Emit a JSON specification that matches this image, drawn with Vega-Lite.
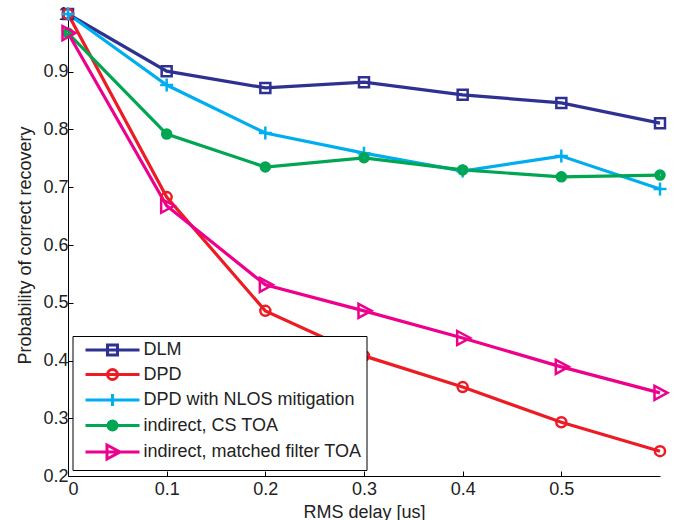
{
  "$schema": "https://vega.github.io/schema/vega-lite/v6.json",
  "width": 592,
  "height": 462,
  "autosize": {"type": "none"},
  "padding": {"left": 68, "top": 14, "right": 17, "bottom": 44},
  "background": "white",
  "config": {
    "view": {"stroke": null},
    "font": "Liberation Sans",
    "axis": {
      "domainColor": "#000000",
      "domainWidth": 1,
      "tickColor": "#000000",
      "tickSize": -5,
      "grid": false,
      "labelFont": "Liberation Sans",
      "labelFontSize": 18,
      "labelColor": "#222222",
      "titleFont": "Liberation Sans",
      "titleFontSize": 18,
      "titleFontWeight": "normal",
      "titleColor": "#222222"
    }
  },
  "data": {
    "values": [
      {"series": "DLM", "x": 0, "y": 1.0},
      {"series": "DLM", "x": 0.1, "y": 0.901},
      {"series": "DLM", "x": 0.2, "y": 0.872},
      {"series": "DLM", "x": 0.3, "y": 0.882},
      {"series": "DLM", "x": 0.4, "y": 0.860},
      {"series": "DLM", "x": 0.5, "y": 0.846},
      {"series": "DLM", "x": 0.6, "y": 0.811},
      {"series": "DPD", "x": 0, "y": 1.0},
      {"series": "DPD", "x": 0.1, "y": 0.683},
      {"series": "DPD", "x": 0.2, "y": 0.486},
      {"series": "DPD", "x": 0.3, "y": 0.408},
      {"series": "DPD", "x": 0.4, "y": 0.354},
      {"series": "DPD", "x": 0.5, "y": 0.293},
      {"series": "DPD", "x": 0.6, "y": 0.243},
      {"series": "DPD with NLOS mitigation", "x": 0, "y": 1.0},
      {"series": "DPD with NLOS mitigation", "x": 0.1, "y": 0.877},
      {"series": "DPD with NLOS mitigation", "x": 0.2, "y": 0.794},
      {"series": "DPD with NLOS mitigation", "x": 0.3, "y": 0.759},
      {"series": "DPD with NLOS mitigation", "x": 0.4, "y": 0.728},
      {"series": "DPD with NLOS mitigation", "x": 0.5, "y": 0.754},
      {"series": "DPD with NLOS mitigation", "x": 0.6, "y": 0.697},
      {"series": "indirect, CS TOA", "x": 0, "y": 0.967},
      {"series": "indirect, CS TOA", "x": 0.1, "y": 0.792},
      {"series": "indirect, CS TOA", "x": 0.2, "y": 0.735},
      {"series": "indirect, CS TOA", "x": 0.3, "y": 0.751},
      {"series": "indirect, CS TOA", "x": 0.4, "y": 0.730},
      {"series": "indirect, CS TOA", "x": 0.5, "y": 0.718},
      {"series": "indirect, CS TOA", "x": 0.6, "y": 0.721},
      {"series": "indirect, matched filter TOA", "x": 0, "y": 0.967},
      {"series": "indirect, matched filter TOA", "x": 0.1, "y": 0.668},
      {"series": "indirect, matched filter TOA", "x": 0.2, "y": 0.531},
      {"series": "indirect, matched filter TOA", "x": 0.3, "y": 0.486},
      {"series": "indirect, matched filter TOA", "x": 0.4, "y": 0.439},
      {"series": "indirect, matched filter TOA", "x": 0.5, "y": 0.389},
      {"series": "indirect, matched filter TOA", "x": 0.6, "y": 0.344}
    ]
  },
  "encoding": {
    "x": {
      "field": "x", "type": "quantitative",
      "scale": {"domain": [0, 0.6], "nice": false, "zero": false},
      "axis": {"values": [0, 0.1, 0.2, 0.3, 0.4, 0.5], "format": "~g", "title": "RMS delay [us]", "labelPadding": 9, "titlePadding": 5}
    },
    "y": {
      "field": "y", "type": "quantitative",
      "scale": {"domain": [0.2, 1], "nice": false, "zero": false},
      "axis": {"values": [0.2, 0.3, 0.4, 0.5, 0.6, 0.7, 0.8, 0.9, 1.0], "format": "~g", "title": "Probability of correct recovery", "labelPadding": 5, "titlePadding": 8}
    }
  },
  "resolve": {"scale": {"color": "independent", "shape": "independent"}},
  "layer": [
    {
      "mark": {"type": "line", "strokeWidth": 3.2},
      "encoding": {
        "color": {
          "field": "series", "type": "nominal", "legend": null,
          "scale": {
            "domain": ["DLM", "DPD", "DPD with NLOS mitigation", "indirect, CS TOA", "indirect, matched filter TOA"],
            "range": ["#2e3192", "#ed1c24", "#00aeef", "#00a651", "#ec008c"]
          }
        }
      }
    },
    {
      "mark": {"type": "point", "filled": false, "strokeWidth": 2.5, "size": 100, "opacity": 1},
      "encoding": {
        "color": {
          "field": "series", "type": "nominal", "legend": null,
          "scale": {
            "domain": ["DLM", "DPD", "DPD with NLOS mitigation", "indirect, CS TOA", "indirect, matched filter TOA"],
            "range": ["#2e3192", "#ed1c24", "#00aeef", "#00a651", "#ec008c"]
          }
        },
        "shape": {
          "field": "series", "type": "nominal", "legend": null,
          "scale": {
            "domain": ["DLM", "DPD", "DPD with NLOS mitigation", "indirect, CS TOA", "indirect, matched filter TOA"],
            "range": [
              "M-1,-1H1V1H-1Z",
              "M1,0A1,1 0 1,1 -1,0A1,1 0 1,1 1,0Z",
              "M-1.3,0H1.3M0,-1.3V1.3",
              "M0.9,0A0.9,0.9 0 1,1 -0.9,0A0.9,0.9 0 1,1 0.9,0ZM0.45,0A0.45,0.45 0 1,1 -0.45,0A0.45,0.45 0 1,1 0.45,0ZM0.1,0A0.1,0.1 0 1,1 -0.1,0A0.1,0.1 0 1,1 0.1,0Z",
              "M-1.1,-1.4L1.5,0L-1.1,1.4Z"
            ]
          }
        }
      }
    },
    {
      "mark": {"type": "point", "filled": false, "strokeWidth": 3, "size": 100, "opacity": 0},
      "encoding": {
        "color": {
          "field": "series", "type": "nominal",
          "scale": {
            "domain": ["DLM", "DPD", "DPD with NLOS mitigation", "indirect, CS TOA", "indirect, matched filter TOA"],
            "range": ["#2e3192", "#ed1c24", "#00aeef", "#00a651", "#ec008c"]
          },
          "legend": {
            "title": null, "orient": "none", "legendX": 4.5, "legendY": 322,
            "strokeColor": "#000000", "fillColor": "#ffffff", "padding": 5,
            "symbolOffset": 26, "symbolSize": 100, "symbolStrokeWidth": 3, "symbolOpacity": 1,
            "labelFont": "Liberation Sans", "labelFontSize": 18, "labelColor": "#222222",
            "labelOffset": 22, "rowPadding": 2.5, "labelLimit": 400
          }
        },
        "shape": {
          "field": "series", "type": "nominal",
          "scale": {
            "domain": ["DLM", "DPD", "DPD with NLOS mitigation", "indirect, CS TOA", "indirect, matched filter TOA"],
            "range": [
              "M-5.4,0H5.4M-1,-1H1V1H-1Z",
              "M-5.4,0H5.4M1,0A1,1 0 1,1 -1,0A1,1 0 1,1 1,0Z",
              "M-5.4,0H5.4M0,-1.2V1.2",
              "M-5.4,0H5.4M0.9,0A0.9,0.9 0 1,1 -0.9,0A0.9,0.9 0 1,1 0.9,0ZM0.45,0A0.45,0.45 0 1,1 -0.45,0A0.45,0.45 0 1,1 0.45,0ZM0.1,0A0.1,0.1 0 1,1 -0.1,0A0.1,0.1 0 1,1 0.1,0Z",
              "M-5.4,0H5.4M-1.1,-1.4L1.5,0L-1.1,1.4Z"
            ]
          },
          "legend": {
            "title": null, "orient": "none", "legendX": 4.5, "legendY": 322,
            "strokeColor": "#000000", "fillColor": "#ffffff", "padding": 5,
            "symbolOffset": 26, "symbolSize": 100, "symbolStrokeWidth": 3, "symbolOpacity": 1,
            "labelFont": "Liberation Sans", "labelFontSize": 18, "labelColor": "#222222",
            "labelOffset": 22, "rowPadding": 2.5, "labelLimit": 400
          }
        }
      }
    }
  ]
}
